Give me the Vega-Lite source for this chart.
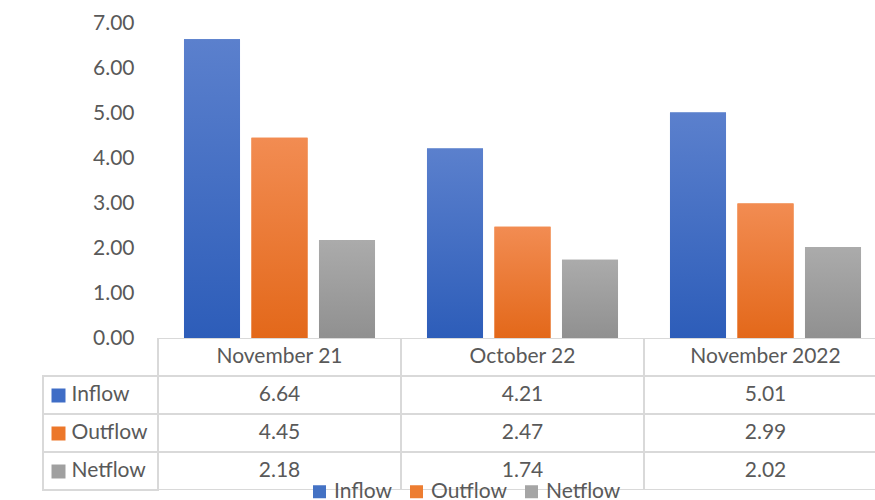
{
  "$schema": "https://vega.github.io/schema/vega-lite/v6.json",
  "padding": {"left": 42, "top": 12, "right": 0, "bottom": 0},
  "background": "white",
  "spacing": 0,
  "bounds": "flush",
  "config": {
    "font": "Lato",
    "view": {"stroke": null},
    "text": {"font": "Lato", "fontSize": 21, "color": "#595959"}
  },
  "datasets": {
    "flows": [
      {"category": "November 21", "series": "Inflow", "value": 6.64},
      {"category": "November 21", "series": "Outflow", "value": 4.45},
      {"category": "November 21", "series": "Netflow", "value": 2.18},
      {"category": "October 22", "series": "Inflow", "value": 4.21},
      {"category": "October 22", "series": "Outflow", "value": 2.47},
      {"category": "October 22", "series": "Netflow", "value": 1.74},
      {"category": "November 2022", "series": "Inflow", "value": 5.01},
      {"category": "November 2022", "series": "Outflow", "value": 2.99},
      {"category": "November 2022", "series": "Netflow", "value": 2.02}
    ]
  },
  "vconcat": [
    {
      "width": 833,
      "height": 315,
      "data": {"name": "flows"},
      "encoding": {
        "x": {
          "field": "category", "type": "nominal",
          "scale": {"domain": ["November 21", "October 22", "November 2022"], "range": [0, 844], "paddingInner": 0, "paddingOuter": 0.23663, "align": 1},
          "axis": null
        },
        "xOffset": {
          "field": "series", "type": "nominal",
          "scale": {"domain": ["Inflow", "Outflow", "Netflow"], "paddingInner": 0.17, "paddingOuter": 0.385}
        },
        "y": {
          "field": "value", "type": "quantitative",
          "scale": {"domain": [0, 7], "nice": false},
          "axis": {
            "orient": "left", "offset": -115, "values": [0, 1, 2, 3, 4, 5, 6, 7],
            "format": ".2f", "grid": false, "domain": false, "ticks": false,
            "labelPadding": 24, "labelFont": "Lato", "labelFontSize": 21,
            "labelColor": "#595959", "title": null, "zindex": 1, "minExtent": 0
          }
        }
      },
      "layer": [
        {
          "mark": {"type": "bar"},
          "encoding": {
            "color": {
              "field": "series", "type": "nominal",
              "scale": {"domain": ["Inflow", "Outflow", "Netflow"], "range": ["#4472C4", "#ED7D31", "#A5A5A5"]},
              "legend": {
                "orient": "none", "legendX": 266, "legendY": 458, "direction": "horizontal", "title": null,
                "symbolType": "square", "symbolSize": 169, "symbolStrokeWidth": 0,
                "labelFont": "Lato", "labelFontSize": 21, "labelColor": "#595959",
                "columnPadding": 14, "labelOffset": 4, "padding": 0
              }
            }
          }
        },
        {
          "transform": [{"filter": "datum.series === 'Inflow'"}],
          "mark": {"type": "bar", "fill": {"gradient": "linear", "x1": 0, "y1": 0, "x2": 0, "y2": 1,
            "stops": [{"offset": 0, "color": "#5B80CD"}, {"offset": 1, "color": "#2D5DB9"}]}}
        },
        {
          "transform": [{"filter": "datum.series === 'Outflow'"}],
          "mark": {"type": "bar", "fill": {"gradient": "linear", "x1": 0, "y1": 0, "x2": 0, "y2": 1,
            "stops": [{"offset": 0, "color": "#F28C52"}, {"offset": 1, "color": "#E3681A"}]}}
        },
        {
          "transform": [{"filter": "datum.series === 'Netflow'"}],
          "mark": {"type": "bar", "fill": {"gradient": "linear", "x1": 0, "y1": 0, "x2": 0, "y2": 1,
            "stops": [{"offset": 0, "color": "#ABABAB"}, {"offset": 1, "color": "#909090"}]}}
        }
      ]
    },
    {
      "width": 833,
      "height": 152,
      "data": {"name": "flows"},
      "layer": [
        {
          "transform": [{"aggregate": [{"op": "count", "as": "n"}], "groupby": ["category"]}],
          "mark": {"type": "rect", "fill": "white", "stroke": "#D9D9D9", "strokeWidth": 2, "clip": true},
          "encoding": {
            "x": {"field": "category", "type": "nominal",
              "scale": {"domain": ["November 21", "October 22", "November 2022"], "range": [0, 844], "paddingInner": 0, "paddingOuter": 0.23663, "align": 1}, "axis": null},
            "y": {"datum": "header", "type": "nominal"}
          }
        },
        {
          "mark": {"type": "rect", "fill": "white", "stroke": "#D9D9D9", "strokeWidth": 2, "clip": true},
          "encoding": {
            "x": {"field": "category", "type": "nominal", "axis": null},
            "y": {
              "field": "series", "type": "nominal",
              "scale": {"domain": ["header", "Inflow", "Outflow", "Netflow"], "paddingInner": 0, "paddingOuter": 0},
              "axis": {
                "orient": "left", "offset": -22, "domain": false, "grid": false,
                "ticks": true, "tickSize": 14, "tickWidth": 14,
                "tickColor": {"condition": [
                  {"test": "datum.value === 'Inflow'", "value": "#3F6DC6"},
                  {"test": "datum.value === 'Outflow'", "value": "#EC772A"},
                  {"test": "datum.value === 'Netflow'", "value": "#A0A0A0"}
                ], "value": "transparent"},
                "labelExpr": "datum.value === 'header' ? '' : datum.value",
                "labelAlign": "left", "labelPadding": -20, "labelFont": "Lato",
                "labelFontSize": 21, "labelColor": "#595959", "title": null,
                "zindex": 1, "minExtent": 0
              }
            }
          }
        },
        {
          "transform": [{"aggregate": [{"op": "count", "as": "n"}], "groupby": ["series"]}],
          "mark": {"type": "rect", "fill": null, "stroke": "#D9D9D9", "strokeWidth": 2},
          "encoding": {
            "x": {"datum": "November 21", "bandPosition": 0},
            "x2": {"value": 0},
            "y": {"field": "series", "type": "nominal"}
          }
        },
        {
          "transform": [{"aggregate": [{"op": "count", "as": "n"}], "groupby": ["category"]}],
          "mark": {"type": "text", "font": "Lato", "fontSize": 21, "color": "#595959", "baseline": "middle"},
          "encoding": {
            "x": {"field": "category", "type": "nominal"},
            "y": {"datum": "header", "type": "nominal"},
            "text": {"field": "category"}
          }
        },
        {
          "mark": {"type": "text", "font": "Lato", "fontSize": 21, "color": "#595959", "baseline": "middle"},
          "encoding": {
            "x": {"field": "category", "type": "nominal"},
            "y": {"field": "series", "type": "nominal"},
            "text": {"field": "value", "type": "quantitative", "format": ".2f"}
          }
        }
      ]
    }
  ]
}
